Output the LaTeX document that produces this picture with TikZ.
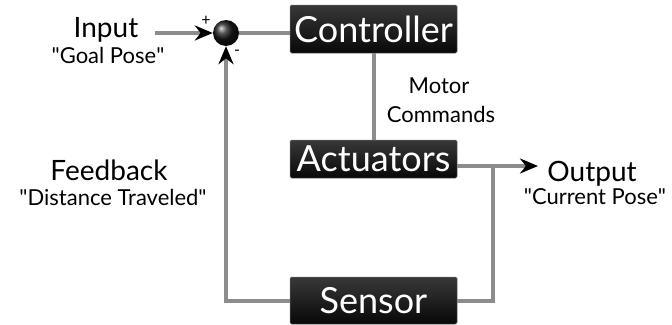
\documentclass[tikz,border=0pt]{standalone}
\usepackage{fontspec}
\setmainfont{Lato}
\usetikzlibrary{positioning,calc,arrows.meta,shadings}
\newcommand\dq{\XeTeXglyph\XeTeXcharglyph"22\relax}
\newcommand\quoted[1]{\dq#1\dq}

\begin{document}
\begin{tikzpicture}[x=1pt,y=-1pt,
    block/.style={draw=black!60, line width=0.5pt, rounded corners=1.5pt, top color=black!78, bottom color=black!97,
        text=white, minimum width=167pt, inner sep=0pt, font=\fontsize{36}{36}\selectfont},
    wire/.style={draw=black!45, line width=4pt},
    tip/.style={-{Stealth[length=18pt,width=15pt,color=black]}},
    lbl/.style={anchor=base, font=\fontsize{28}{28}\selectfont},
    sub/.style={anchor=base, font=\fontsize{22}{22}\selectfont}]

    \useasboundingbox (0,0) rectangle (672,324);

    \node[block, minimum height=48pt] (ctrl) at (373.5,29) {Controller};
    \node[block, minimum height=38pt] (act) at (373.5,159) {Actuators};
    \node[block, minimum height=47pt] (sens) at (373.5,300.5) {Sensor};
    \node[circle, shading=ball, ball color=black!90, minimum size=26pt, inner sep=0pt] (sum) at (226,33) {};

    \coordinate (in) at (155,33);
    \coordinate (out) at (538,166);
    \coordinate (split) at (493,166);

    \draw[wire] (sum.east) -- (sum.east -| ctrl.west);
    \draw[wire] (ctrl.south) -- (act.north);
    \draw[wire] (split) |- (sens.east);
    \draw[wire, tip] (in) -- (sum.west);
    \draw[wire, tip] (act.east |- out) -- (out);
    \draw[wire, tip] (sens.west) -| (sum.south);

    \node[lbl] (input) at (106,37) {Input};
    \node[sub] (goal) at (108,63) {\quoted{Goal Pose}};
    \node[lbl] (fb) at (109,180) {Feedback};
    \node[sub] (dist) at (113,205) {\quoted{Distance Traveled}};
    \node[lbl] (output) at (592,181) {Output};
    \node[sub] (pose) at (595,204) {\quoted{Current Pose}};
    \node[sub] (motor) at (439,93) {Motor};
    \node[sub] (cmds) at (441,122) {Commands};
    \node[font=\fontsize{16}{16}\selectfont] (plus) at (206,21) {+};
    \node[font=\fontsize{16}{16}\selectfont] (minus) at (237,53) {-};
\end{tikzpicture}
\end{document}
